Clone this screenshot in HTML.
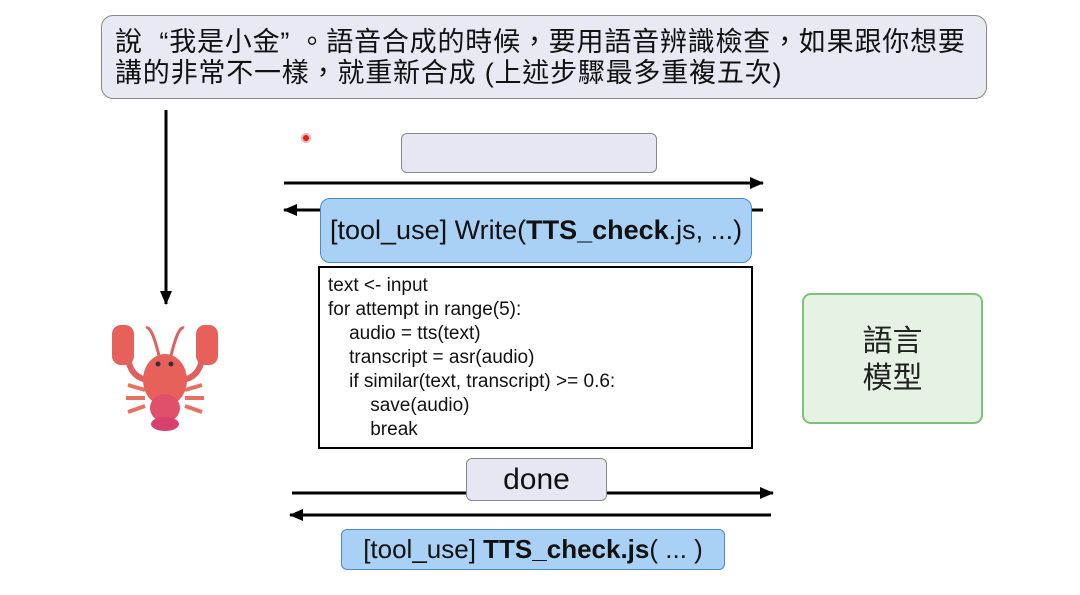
<!DOCTYPE html>
<html><head><meta charset="utf-8"><style>
body{margin:0;width:1080px;height:595px;background:#fff;position:relative;overflow:hidden;font-family:"Liberation Sans","Noto Sans CJK TC",sans-serif}
.abs{position:absolute;box-sizing:border-box}
</style></head><body>
<div class="abs" style="left:101px;top:15px;width:886px;height:84px;background:#e8e9f3;border:1.5px solid #888;border-radius:12px;padding:11px 0 0 13px;font-size:27px;line-height:31px;letter-spacing:0.8px;color:#111;white-space:nowrap">說&nbsp;&nbsp;“我是小金”&nbsp;。語音合成的時候，要用語音辨識檢查，如果跟你想要<br>講的非常不一樣，就重新合成 (上述步驟最多重複五次)</div>
<svg class="abs" style="left:0;top:0" width="1080" height="595">
<defs><marker id="b" markerWidth="14" markerHeight="12" refX="13" refY="6" orient="auto" markerUnits="userSpaceOnUse"><path d="M0,0 L14,6 L0,12z" fill="#000"/></marker></defs>
<line x1="166" y1="110" x2="166" y2="304" stroke="#000" stroke-width="3" marker-end="url(#b)"/>
<line x1="284" y1="183" x2="763" y2="183" stroke="#000" stroke-width="3" marker-end="url(#b)"/>
<line x1="763" y1="210" x2="284" y2="210" stroke="#000" stroke-width="3" marker-end="url(#b)"/>
<line x1="292" y1="493" x2="773" y2="493" stroke="#000" stroke-width="3" marker-end="url(#b)"/>
<line x1="771" y1="515" x2="290" y2="515" stroke="#000" stroke-width="3" marker-end="url(#b)"/>
<circle cx="306" cy="138" r="5" fill="#f3b0b0"/><circle cx="306" cy="138" r="3" fill="#d22"/>
<g>
<rect x="112" y="325" width="22" height="40" rx="9" fill="#e8605a"/>
<rect x="196" y="325" width="22" height="40" rx="9" fill="#e8605a"/>
<path d="M128 360 Q132 378 148 380" stroke="#e06060" stroke-width="6" fill="none"/>
<path d="M202 360 Q198 378 182 380" stroke="#e06060" stroke-width="6" fill="none"/>
<path d="M160 360 Q152 325 146 328 M170 360 Q178 325 184 328" stroke="#e06060" stroke-width="3" fill="none"/>
<g stroke="#e87060" stroke-width="4" fill="none">
<path d="M145 390 L128 385 M145 398 L126 398 M145 406 L128 412 M185 390 L202 385 M185 398 L204 398 M185 406 L202 412"/></g>
<ellipse cx="165" cy="380" rx="22" ry="26" fill="#e8605a"/>
<ellipse cx="165" cy="408" rx="15" ry="14" fill="#e0506a"/>
<ellipse cx="165" cy="424" rx="14" ry="7" fill="#d84070"/>
<circle cx="158" cy="364" r="2.5" fill="#333"/><circle cx="171" cy="364" r="2.5" fill="#333"/>
</g>
</svg>
<div class="abs" style="left:401px;top:133px;width:256px;height:40px;background:#e6e7f2;border:1px solid #888;border-radius:6px"></div>
<div class="abs" style="left:320px;top:198px;width:432px;height:65px;background:#a9d1f5;border:1.5px solid #4a8ad0;border-radius:10px;font-size:27px;line-height:63px;padding-left:9px;color:#111;white-space:nowrap">[tool_use] Write(<b>TTS_check</b>.js, ...)</div>
<div class="abs" style="left:318px;top:266px;width:435px;height:183px;border:2px solid #000;background:#fff;font-size:19px;line-height:24px;padding:6px 0 0 8px;color:#111;white-space:pre">text &lt;- input
for attempt in range(5):
    audio = tts(text)
    transcript = asr(audio)
    if similar(text, transcript) &gt;= 0.6:
        save(audio)
        break</div>
<div class="abs" style="left:802px;top:293px;width:181px;height:131px;background:#e6f2e4;border:2px solid #7cc27a;border-radius:9px;font-size:30px;line-height:37px;text-align:center;padding-top:28px;color:#222">語言<br>模型</div>
<div class="abs" style="left:466px;top:458px;width:141px;height:43px;background:#e6e7f2;border:1px solid #888;border-radius:6px;font-size:30px;line-height:42px;text-align:center;color:#111">done</div>
<div class="abs" style="left:341px;top:529px;width:384px;height:41px;background:#a9d1f5;border:1.5px solid #4a8ad0;border-radius:6px;font-size:26px;line-height:39px;text-align:center;color:#111;white-space:nowrap">[tool_use] <b>TTS_check.js</b>( ... )</div>
</body></html>
